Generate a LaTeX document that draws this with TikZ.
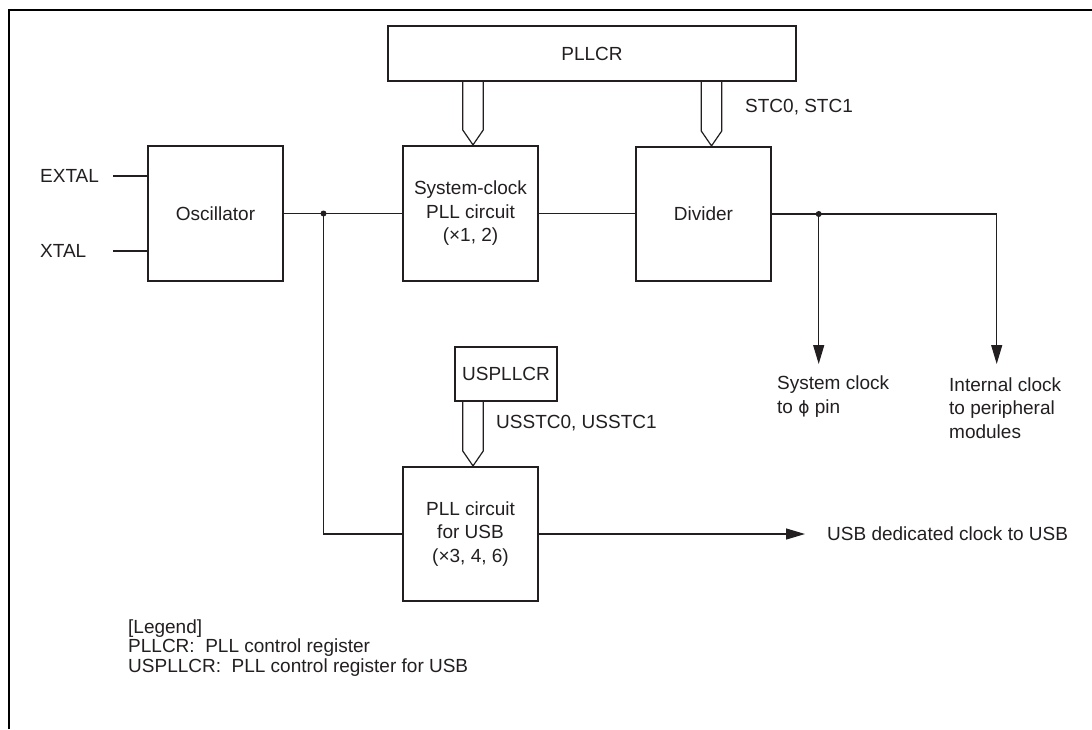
\documentclass[tikz,border=0pt]{standalone}
\usepackage{fontspec}
\setmainfont{Liberation Sans}
\newfontfamily\symfam{DejaVu Sans}
\usetikzlibrary{arrows.meta,calc}
\definecolor{ink}{RGB}{35,31,32}
\begin{document}
\begin{tikzpicture}[x=1pt,y=-1pt,
  box/.style={draw=ink, line width=2.2pt, inner sep=0pt, align=center, text=ink, font=\fontsize{19}{23.5}\selectfont},
  lbl/.style={inner sep=0pt, text=ink, font=\fontsize{19}{23.5}\selectfont, align=left},
  legtext/.style={inner sep=0pt, text=ink, font=\fontsize{19}{19.5}\selectfont, align=left},
  wire/.style={draw=ink, line width=1.2pt},
  arr/.style={wire, -{Triangle[length=19pt,width=11pt]}},
  hollow/.style={draw=ink, line width=1.2pt, line join=miter},
  jdot/.style={circle, fill=ink, inner sep=0pt, minimum size=6pt}]
\useasboundingbox (0,0) rectangle (1092,729);
\fill[white] (0,0) rectangle (1092,729);
\draw[line width=2.5pt, black] (9,729) -- (9,10) -- (1092,10);

% boxes
\node[box, minimum width=408pt, minimum height=55pt] (pllcr) at (592,53.5) {PLLCR};
\node[box, minimum width=135pt, minimum height=135pt] (sys) at (470.5,213.5) {System-clock\\PLL circuit\\(×1, 2)};
\node[box, minimum width=135pt, minimum height=134pt] (div) at (703.5,214) {Divider};
\node[box, minimum width=135pt, minimum height=135pt] (osc) at (215.5,213.5) {Oscillator};
\node[box, minimum width=102pt, minimum height=54pt] (uspllcr) at (506,374) {USPLLCR};
\node[box, minimum width=135pt, minimum height=134pt] (usbpll) at (470.5,534) {PLL circuit\\for USB\\(×3, 4, 6)};

% hollow register arrows
\coordinate (ax1) at (473,0);
\coordinate (ax2) at (711.5,0);
\coordinate (ax3) at (473,0);
\draw[hollow] ($(ax1|-pllcr.south)+(-10.3,0)$) -- ($(ax1|-sys.north)+(-10.3,-15)$) -- (ax1|-sys.north)
  -- ($(ax1|-sys.north)+(10.3,-15)$) -- ($(ax1|-pllcr.south)+(10.3,0)$);
\draw[hollow] ($(ax2|-pllcr.south)+(-10.3,0)$) -- ($(ax2|-div.north)+(-10.3,-15)$) -- (ax2|-div.north)
  -- ($(ax2|-div.north)+(10.3,-15)$) -- ($(ax2|-pllcr.south)+(10.3,0)$);
\draw[hollow] ($(ax3|-uspllcr.south)+(-10.3,0)$) -- ($(ax3|-usbpll.north)+(-10.3,-15)$) -- (ax3|-usbpll.north)
  -- ($(ax3|-usbpll.north)+(10.3,-15)$) -- ($(ax3|-uspllcr.south)+(10.3,0)$);

% inputs
\node[lbl, anchor=west] (extal) at (40,176) {EXTAL};
\node[lbl, anchor=west] (xtal) at (40,251) {XTAL};
\coordinate (exs) at (113,176);
\coordinate (xts) at (113,251);
\draw[wire] (exs) -- (exs -| osc.west);
\draw[wire] (xts) -- (xts -| osc.west);

% main clock path
\node[jdot] (j1) at (323.5,213.5) {};
\draw[wire] (osc.east) -- (sys.west);
\draw[wire] (j1.center) -- (j1.center |- usbpll.west) -- (usbpll.west);
\draw[wire] (sys.east) -- (sys.east -| div.west);
\node[jdot] (j2) at (818.7,214) {};
\coordinate (c2) at (996.7,214);
\coordinate (t1) at (818.7,364);
\coordinate (t2) at (996.7,364);
\coordinate (t3) at (805,534);
\draw[arr] (div.east) -- (c2) -- (t2);
\draw[arr] (j2.center) -- (t1);
\draw[arr] (usbpll.east) -- (t3);

% labels
\node[lbl, anchor=west] (stc) at (745,107) {STC0, STC1};
\node[lbl, anchor=west] (usstc) at (496,423) {USSTC0, USSTC1};
\node[lbl, anchor=west] (sysout) at (777,396.5) {System clock\\to {\symfam\fontsize{17}{23.5}\selectfont ϕ} pin};
\node[lbl, anchor=west] (intout) at (949,408) {Internal clock\\to peripheral\\modules};
\node[lbl, anchor=west] (usbout) at (827,534) {USB dedicated clock to USB};

% legend
\node[legtext, anchor=west] (legend) at (128,648) {[Legend]\\PLLCR:\ \ PLL control register\\USPLLCR:\ \ PLL control register for USB};
\end{tikzpicture}
\end{document}
